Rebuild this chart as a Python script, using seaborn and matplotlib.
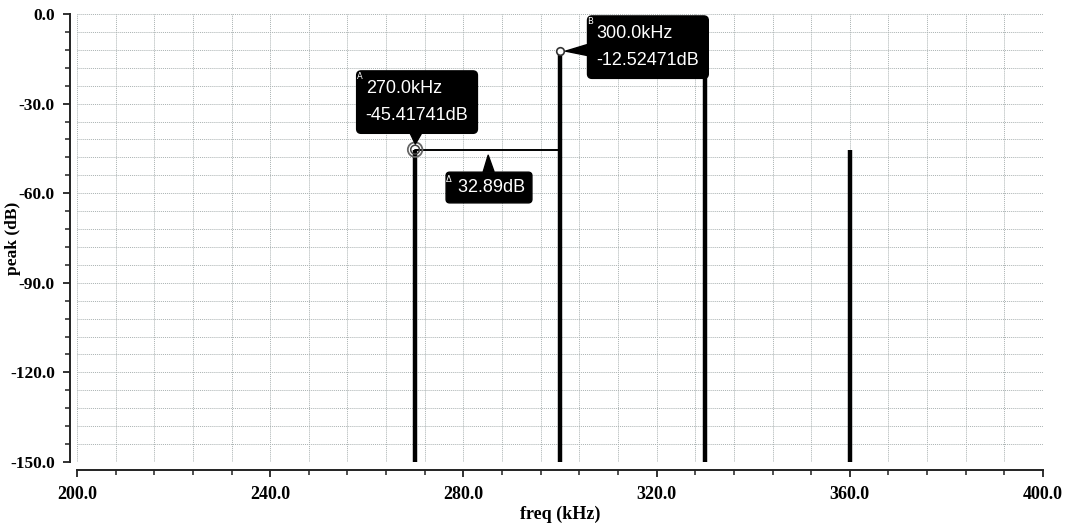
import matplotlib
matplotlib.use("Agg")
import matplotlib.pyplot as plt
from matplotlib.ticker import MultipleLocator, FuncFormatter
import seaborn as sns

# Spectrum peaks (kHz, dB)
freq_khz = [270.0, 300.0, 330.0, 360.0]
peak_db = [-45.41741, -12.52471, -13.0, -45.4]

# Marker readouts
marker_a = (270.0, -45.41741)
marker_b = (300.0, -12.52471)

x_ticks = [200.0, 240.0, 280.0, 320.0, 360.0, 400.0]
y_ticks = [0.0, -30.0, -60.0, -90.0, -120.0, -150.0]

sns.set_theme(style="white")
plt.rcParams["axes.unicode_minus"] = False

box_font = "Liberation Sans"
box_size = 13
serif = ["Liberation Serif", "DejaVu Serif"]

fig = plt.figure(figsize=(10.65, 5.29), dpi=100)
ax = fig.add_axes([77 / 1065, 1 - 462 / 529, (1043 - 77) / 1065, (462 - 14) / 529])

ax.set_xlim(200, 400)
ax.set_ylim(-150, 0)

# Grid: dotted on every major and minor division
ax.xaxis.set_major_locator(MultipleLocator(40))
ax.xaxis.set_minor_locator(MultipleLocator(8))
ax.yaxis.set_major_locator(MultipleLocator(30))
ax.yaxis.set_minor_locator(MultipleLocator(6))
ax.grid(which="both", color="#aab2b2", linestyle=(0, (1, 1)), linewidth=0.7)
ax.set_axisbelow(True)

# Spectral lines
ax.vlines(freq_khz, -150, peak_db, colors="black", linewidth=3.2, zorder=3)

sns.despine(ax=ax, offset={"left": 5, "bottom": 6})
for side in ("left", "bottom"):
    ax.spines[side].set_color("#222222")
    ax.spines[side].set_linewidth(1.4)

ax.tick_params(which="major", direction="out", length=5, width=1.3, color="#222222",
               left=True, bottom=True, pad=6)
ax.tick_params(which="minor", direction="out", length=3.5, width=1.1, color="#222222",
               left=True, bottom=True)

fmt = FuncFormatter(lambda v, _: f"{abs(v):.1f}" if abs(v) < 1e-9 else f"{v:.1f}")
ax.xaxis.set_major_formatter(fmt)
ax.yaxis.set_major_formatter(fmt)
ax.set_xticks(x_ticks)
ax.set_yticks(y_ticks)
for lab in ax.get_xticklabels():
    lab.set_fontfamily(serif)
    lab.set_fontweight("bold")
    lab.set_fontsize(13)
    lab.set_color("black")
for lab in ax.get_yticklabels():
    lab.set_fontfamily(serif)
    lab.set_fontweight("bold")
    lab.set_fontsize(12.5)
    lab.set_color("black")

ax.set_xlabel("freq (kHz)", fontfamily=serif, fontweight="bold", fontsize=13,
              color="black", labelpad=2)
ax.set_ylabel("peak (dB)", fontfamily=serif, fontweight="bold", fontsize=12.5,
              color="black")
ax.yaxis.set_label_coords(-0.058, 0.5)

# Delta line between markers A and B
ax.plot([marker_a[0], marker_b[0]], [marker_a[1], marker_a[1]], color="black",
        linewidth=1.4, zorder=4)

# Marker symbols
ax.scatter([marker_a[0]], [marker_a[1]], s=110, facecolors="none", edgecolors="#666666",
           linewidths=1.3, zorder=6)
ax.scatter([marker_a[0]], [marker_a[1]], s=40, facecolors="none", edgecolors="#444444",
           linewidths=1.1, zorder=6)
ax.scatter([marker_b[0]], [marker_b[1]], s=30, facecolors="white", edgecolors="#333333",
           linewidths=1.2, zorder=6)

box = dict(boxstyle="round,pad=0.5,rounding_size=0.25", fc="black", ec="black")
wedge = dict(arrowstyle="wedge,tail_width=0.6,shrink_factor=0.5", fc="black", ec="black",
             shrinkA=0, shrinkB=4)

ax.annotate(f"{marker_a[0]:.1f}kHz\n{marker_a[1]:.5f}dB", xy=marker_a,
            xytext=(270.4, -29.5), textcoords="data", ha="center", va="center",
            multialignment="left", linespacing=1.8, color="white",
            fontfamily=box_font, fontsize=box_size, bbox=box, arrowprops=wedge, zorder=7)
ax.annotate(f"{marker_b[0]:.1f}kHz\n{marker_b[1]:.5f}dB", xy=marker_b,
            xytext=(318.2, -11.1), textcoords="data", ha="center", va="center",
            multialignment="left", linespacing=1.8, color="white",
            fontfamily=box_font, fontsize=box_size, bbox=box, arrowprops=wedge, zorder=7)
delta = marker_b[1] - marker_a[1]
ax.annotate(f" {delta:.2f}dB", xy=(285.1, marker_a[1]),
            xytext=(285.3, -58.1), textcoords="data", ha="center", va="center",
            color="white", fontfamily=box_font, fontsize=box_size,
            bbox=dict(boxstyle="round,pad=0.38,rounding_size=0.2", fc="black", ec="black"),
            arrowprops=wedge, zorder=7)

# Small marker tags in the box corners
tag = dict(color="white", fontsize=6, fontfamily="DejaVu Sans", va="top", ha="left", zorder=8)
ax.text(258.0, -19.4, "A", **tag)
ax.text(305.6, -0.9, "B", **tag)
ax.text(276.4, -54.0, "Δ", **tag)

fig.savefig("out.png", dpi=100)
